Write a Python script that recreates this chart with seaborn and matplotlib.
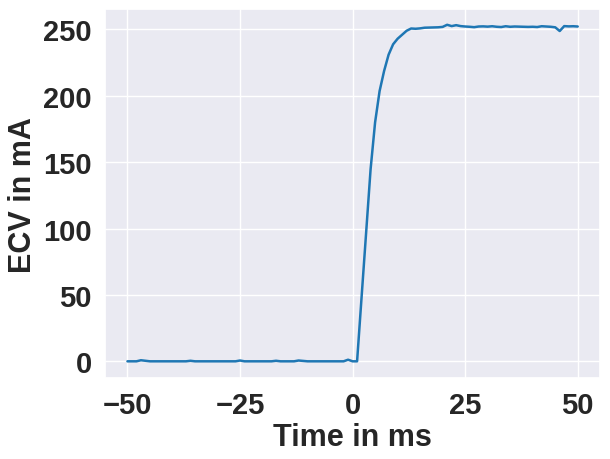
import numpy as np
import pandas as pd
import matplotlib
matplotlib.use("Agg")
import matplotlib.pyplot as plt
import seaborn as sns

time_ms = list(range(-50, 51))
pre = [0.0] * 50
pre_bumps = {-47: 0.8, -46: 0.4, -36: 0.4, -25: 0.6, -17: 0.4, -12: 0.6, -11: 0.3, -1: 1.2}
for t, v in pre_bumps.items():
    pre[t + 50] = v
ecv_pre = pre + [0.0]  # t=-50..0
ecv_post = [0.0, 48.4, 96.5, 144.7, 180.0, 203.6, 218.7, 231.0, 238.8, 243.0,
            246.0, 249.0, 250.7, 250.5, 250.8, 251.3, 251.4, 251.5, 251.6, 251.9,
            253.5, 252.5, 253.2, 252.5, 252.2, 252.0, 251.7, 252.2, 252.3, 252.1,
            252.4, 252.0, 251.8, 252.4, 252.0, 252.2, 252.1, 252.0, 251.9, 252.0,
            251.8, 252.4, 252.2, 252.0, 251.6, 248.8, 252.5, 252.3, 252.4, 252.2]
ecv = (ecv_pre + ecv_post)[:101]

df = pd.DataFrame({"t": time_ms, "ecv": ecv})

sns.set_theme(style="darkgrid")
plt.rcParams['font.family'] = ['Liberation Sans', 'DejaVu Sans']

fig, ax = plt.subplots(figsize=(6.1, 4.6), dpi=100)
sns.lineplot(data=df, x="t", y="ecv", ax=ax, color="#1f77b4", linewidth=1.8)
ax.set_xlabel("Time in ms", fontsize=22, fontweight="bold", labelpad=2)
ax.set_ylabel("ECV in mA", fontsize=22, fontweight="bold", labelpad=4)
ax.set_xticks([-50, -25, 0, 25, 50])
ax.set_yticks([0, 50, 100, 150, 200, 250])
for lab in ax.get_xticklabels() + ax.get_yticklabels():
    lab.set_fontsize(21)
    lab.set_fontweight("bold")
ax.tick_params(colors="#262626")
ax.set_xlim(-55, 55)
ax.set_ylim(-12.6, 265.3)
fig.subplots_adjust(left=0.172, right=0.984, top=0.978, bottom=0.176)
fig.savefig("out.png", dpi=100)
